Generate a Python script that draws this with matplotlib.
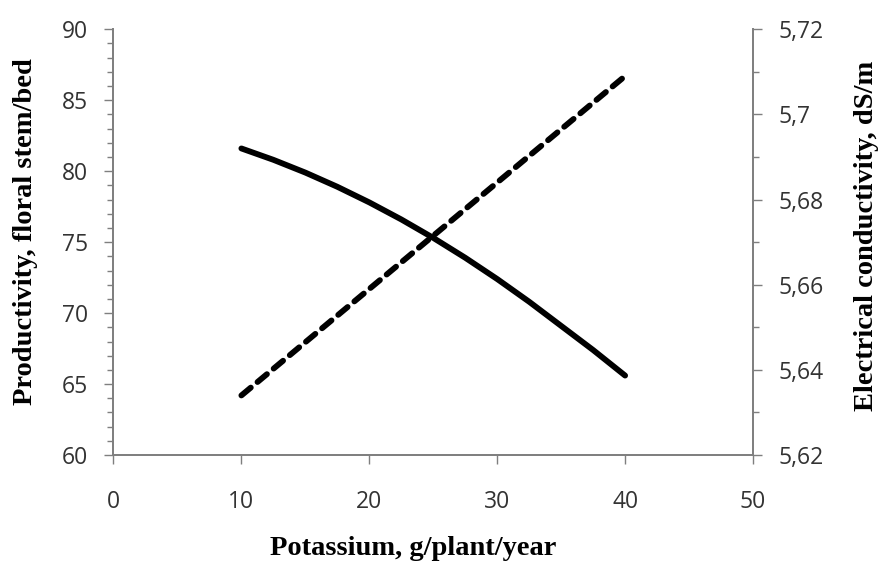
import matplotlib
matplotlib.use("Agg")
import matplotlib.pyplot as plt
from matplotlib.ticker import MultipleLocator, FuncFormatter

# potassium dose, g/plant/year
k_prod = [10, 12.5, 15, 17.5, 20, 22.5, 25, 27.5, 30, 32.5, 35, 37.5, 40]
productivity = [81.6, 80.8, 79.9, 78.9, 77.8, 76.6, 75.3, 73.9, 72.4, 70.8, 69.1, 67.4, 65.6]

k_ec = [10, 20, 30, 40]
ec = [5.634, 5.659, 5.684, 5.709]

grey = '#7f7f7f'
tick_txt = '#333333'

fig = plt.figure(figsize=(8.83, 5.66), dpi=100)
ax = fig.add_axes([0.1285, 0.196, 0.7243, 0.7524])
ax2 = ax.twinx()

ax.plot(k_prod, productivity, color='black', lw=4.2,
        solid_capstyle='round', solid_joinstyle='round')
ax2.plot(k_ec, ec, color='black', lw=4.2, dashes=(2.1, 1.5), dash_capstyle='round')

ax.set_xlim(0, 50)
ax.set_ylim(60, 90)
ax2.set_ylim(5.62, 5.72)

ax.xaxis.set_major_locator(MultipleLocator(10))
ax.yaxis.set_major_locator(MultipleLocator(5))
ax.yaxis.set_minor_locator(MultipleLocator(1))
ax2.yaxis.set_major_locator(MultipleLocator(0.02))
ax2.yaxis.set_minor_locator(MultipleLocator(0.01))


def comma_fmt(v, pos):
    s = ('%.2f' % v).rstrip('0').rstrip('.')
    return s.replace('.', ',')


ax2.yaxis.set_major_formatter(FuncFormatter(comma_fmt))

for a in (ax, ax2):
    a.spines['top'].set_visible(False)
    for s in ('left', 'right', 'bottom'):
        a.spines[s].set_color(grey)
        a.spines[s].set_linewidth(1.3)
    a.tick_params(which='major', length=6.5, width=1.0, color=grey,
                  labelsize=16.5, labelcolor=tick_txt, labelfontfamily='Open Sans')
    a.tick_params(which='minor', length=4.5, width=1.0, color=grey)

ax.tick_params(axis='x', pad=19)
ax.tick_params(axis='y', pad=12)
ax2.tick_params(axis='y', pad=11.5)

lab_font = dict(family='Liberation Serif', fontweight='bold', fontsize=20.5)
ax.set_xlabel('Potassium, g/plant/year', **lab_font)
ax.xaxis.set_label_coords(0.469, -0.22)
ax.xaxis.label.set_va('center')
ax.set_ylabel('Productivity, floral stem/bed', **lab_font)
ax.yaxis.set_label_coords(-0.138, 0.524)
ax.yaxis.label.set_va('center')
ax2.set_ylabel('Electrical conductivity, dS/m', rotation=90, **lab_font)
ax2.yaxis.set_label_coords(1.177, 0.514)
ax2.yaxis.label.set_va('center')

fig.savefig('out.png', dpi=100)
